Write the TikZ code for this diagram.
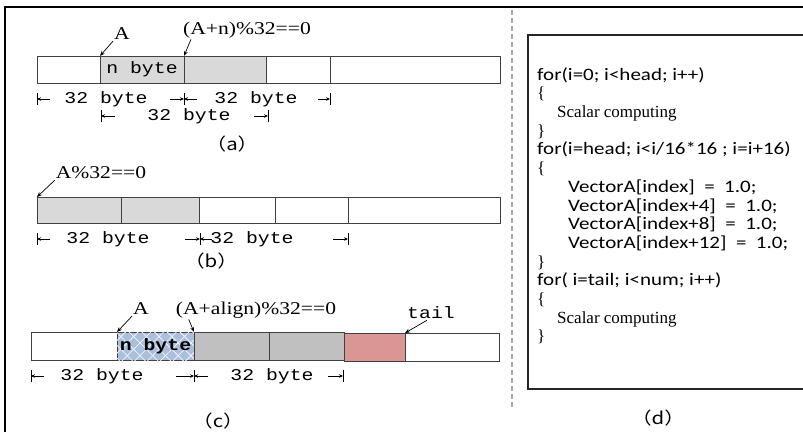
\documentclass[tikz,border=0pt]{standalone}
\usepackage{fontspec}
\setmainfont{Liberation Serif}[FakeStretch=1.2]
\newfontfamily\plainserif{Liberation Serif}
\newfontfamily\codefont{Carlito}[FakeStretch=1.2]
\newfontfamily\bytefont{Liberation Mono}[FakeStretch=1.2]
\newfontfamily\cjk{Noto Sans CJK SC}[FakeStretch=1.2]
\usetikzlibrary{arrows.meta,patterns.meta}
\definecolor{cellgray}{HTML}{D9D9D9}
\definecolor{celldark}{HTML}{C0C0C0}
\definecolor{cellred}{HTML}{D99694}
\definecolor{cellblue}{HTML}{A9BFDC}
\begin{document}
\begin{tikzpicture}[x=1pt, y=-1pt,
    cell/.style={draw=black!75, line width=0.9pt, anchor=west, inner sep=0pt, outer sep=0pt, minimum height=27pt},
    bytelbl/.style={inner sep=1pt, font=\bytefont\fontsize{16.5}{18}\selectfont},
    lbl/.style={inner sep=1pt, font=\fontsize{18}{20}\selectfont},
    caption/.style={font=\cjk\fontsize{17}{19}\selectfont},
    annot/.style={-{Stealth[length=5pt,width=4pt]}, line width=0.7pt},
    dimarr/.style={-{Stealth[length=4pt,width=3.5pt]}, line width=0.7pt},
    dimtick/.style={line width=0.8pt},
    codeln/.style={anchor=base west, inner sep=0pt, font=\codefont\fontsize{17.5}{20}\selectfont},
    textln/.style={anchor=base west, inner sep=0pt, font=\plainserif\fontsize{17}{19}\selectfont}]
    \useasboundingbox (0,0) rectangle (803,432);
    % frame and divider
    \draw[line width=2.5pt] (5,432) -- (5,7) -- (803,7);
    \draw[gray!70, line width=1.2pt, dash pattern=on 5pt off 3pt] (512,10) -- (512,407);
    % (a) unaligned start
    \node[cell, minimum width=63pt] (a1) at (37,69.5) {};
    \node[cell, minimum width=84pt, fill=cellgray, font=\bytefont\fontsize{16.5}{18}\selectfont] (a2) at (a1.east) {n byte};
    \node[cell, minimum width=82pt, fill=cellgray] (a3) at (a2.east) {};
    \node[cell, minimum width=64pt] (a4) at (a3.east) {};
    \node[cell, minimum width=170pt] (a5) at (a4.east) {};
    \node[lbl] (labA) at (122,34) {A};
    \node[lbl] (labAn) at (247,30) {(A+n)\%32==0};
    \draw[annot] (labA.south west) -- (a2.north west);
    \draw[annot] ([xshift=9pt]labAn.south west) -- (a3.north west);
    \coordinate (ta0) at (37,99); \coordinate (ta1) at (184,99); \coordinate (ta2) at (330,99);
    \coordinate (tb0) at (101,116); \coordinate (tb1) at (268,116);
    \foreach \t in {ta0,ta1,ta2,tb0,tb1}
        \draw[dimtick] ([yshift=-6pt]\t) -- ([yshift=6pt]\t);
    \draw[dimarr] ([xshift=13pt]ta0) -- (ta0);
    \draw[dimarr] ([xshift=-14pt]ta1) -- (ta1);
    \draw[dimarr] ([xshift=13pt]ta1) -- (ta1);
    \draw[dimarr] ([xshift=-12pt]ta2) -- (ta2);
    \draw[dimarr] ([xshift=14pt]tb0) -- (tb0);
    \draw[dimarr] ([xshift=-14pt]tb1) -- (tb1);
    \node[bytelbl] (da1) at (106,99) {32 byte};
    \node[bytelbl] (da2) at (256,99) {32 byte};
    \node[bytelbl] (da3) at (189,116) {32 byte};
    \node[caption] (capa) at (232,144) {（a）};
    % (b) aligned start
    \node[cell, minimum width=84pt, minimum height=26pt, fill=cellgray] (b1) at (37,210) {};
    \node[cell, minimum width=78pt, minimum height=26pt, fill=cellgray] (b2) at (b1.east) {};
    \node[cell, minimum width=76pt, minimum height=26pt] (b3) at (b2.east) {};
    \node[cell, minimum width=73pt, minimum height=26pt] (b4) at (b3.east) {};
    \node[cell, minimum width=152pt, minimum height=26pt] (b5) at (b4.east) {};
    \node[lbl] (labB) at (101,173) {A\%32==0};
    \draw[annot] (labB.south west) -- (b1.north west);
    \coordinate (tc0) at (37,239); \coordinate (tc1) at (200,239); \coordinate (tc2) at (348,239);
    \foreach \t in {tc0,tc1,tc2}
        \draw[dimtick] ([yshift=-6pt]\t) -- ([yshift=6pt]\t);
    \draw[dimarr] ([xshift=13pt]tc0) -- (tc0);
    \draw[dimarr] ([xshift=-15pt]tc1) -- (tc1);
    \draw[dimarr] ([xshift=12pt]tc1) -- (tc1);
    \draw[dimarr] ([xshift=-15pt]tc2) -- (tc2);
    \node[bytelbl] (db1) at (108,239) {32 byte};
    \node[bytelbl] (db2) at (252,239) {32 byte};
    \node[caption] (capb) at (211,261) {（b）};
    % (c) head, body and tail
    \node[cell, minimum width=86pt, minimum height=28pt] (c1) at (31,346) {};
    \node[cell, minimum width=77pt, minimum height=28pt, fill=cellblue,
        postaction={pattern={Lines[angle=45,distance=9pt,line width=0.8pt]}, pattern color=white!85!cellblue},
        postaction={pattern={Lines[angle=-45,distance=9pt,line width=0.8pt]}, pattern color=white!85!cellblue},
        font=\bytefont\bfseries\fontsize{16.5}{18}\selectfont] (c2) at (c1.east) {n byte};
    \node[cell, minimum width=75pt, minimum height=28pt, fill=celldark] (c3) at (c2.east) {};
    \node[cell, minimum width=75pt, minimum height=28pt, fill=celldark] (c4) at (c3.east) {};
    \node[cell, minimum width=61pt, minimum height=28pt, fill=cellred] (c5) at ([yshift=-1pt]c4.east) {};
    \node[cell, minimum width=94pt, minimum height=28pt] (c6) at (c5.east) {};
    \node[lbl] (labC) at (141,309) {A};
    \node[lbl] (labCa) at (256,310) {(A+align)\%32==0};
    \node[bytelbl] (labT) at (431,313) {tail};
    \draw[annot] (labC.south west) -- (c2.north west);
    \draw[annot] ([xshift=14pt]labCa.south west) -- (c3.north west);
    \draw[annot] ([xshift=-4pt]labT.south) -- (c6.north west);
    \coordinate (td0) at (31,376); \coordinate (td1) at (194,376); \coordinate (td2) at (343,376);
    \foreach \t in {td0,td1,td2}
        \draw[dimtick] ([yshift=-6pt]\t) -- ([yshift=6pt]\t);
    \draw[dimarr] ([xshift=13pt]td0) -- (td0);
    \draw[dimarr] ([xshift=-18pt]td1) -- (td1);
    \draw[dimarr] ([xshift=14pt]td1) -- (td1);
    \draw[dimarr] ([xshift=-15pt]td2) -- (td2);
    \node[bytelbl] (dc1) at (102,376) {32 byte};
    \node[bytelbl] (dc2) at (272,376) {32 byte};
    \node[caption] (capc) at (218,421) {（c）};
    % (d) code
    \draw[black!85, line width=1.3pt] (808,35) -- (528,35) -- (528,389) -- (808,389);
    \node[codeln] (l1) at (537,80) {for(i=0; i<head; i++)};
    \node[textln] (l2) at (537,98.7) {\{};
    \node[textln] (l3) at (557,117.4) {Scalar computing};
    \node[textln] (l4) at (537,136) {\}};
    \node[codeln] (l5) at (537,154.8) {for(i=head; i<i/16*16 ; i=i+16)};
    \node[textln] (l6) at (537,173.5) {\{};
    \node[codeln] (l7) at (568,192) {VectorA[index]\ \ =\ \ 1.0;};
    \node[codeln] (l8) at (568,211) {VectorA[index+4]\ \ =\ \ 1.0;};
    \node[codeln] (l9) at (568,229.6) {VectorA[index+8]\ \ =\ \ 1.0;};
    \node[codeln] (l10) at (568,248.3) {VectorA[index+12]\ \ =\ \ 1.0;};
    \node[textln] (l11) at (537,267) {\}};
    \node[codeln] (l12) at (537,285.7) {for( i=tail; i<num; i++)};
    \node[textln] (l13) at (537,304.4) {\{};
    \node[textln] (l14) at (557,323) {Scalar computing};
    \node[textln] (l15) at (537,341.8) {\}};
    \node[caption] (capd) at (658,418) {（d）};
\end{tikzpicture}
\end{document}
